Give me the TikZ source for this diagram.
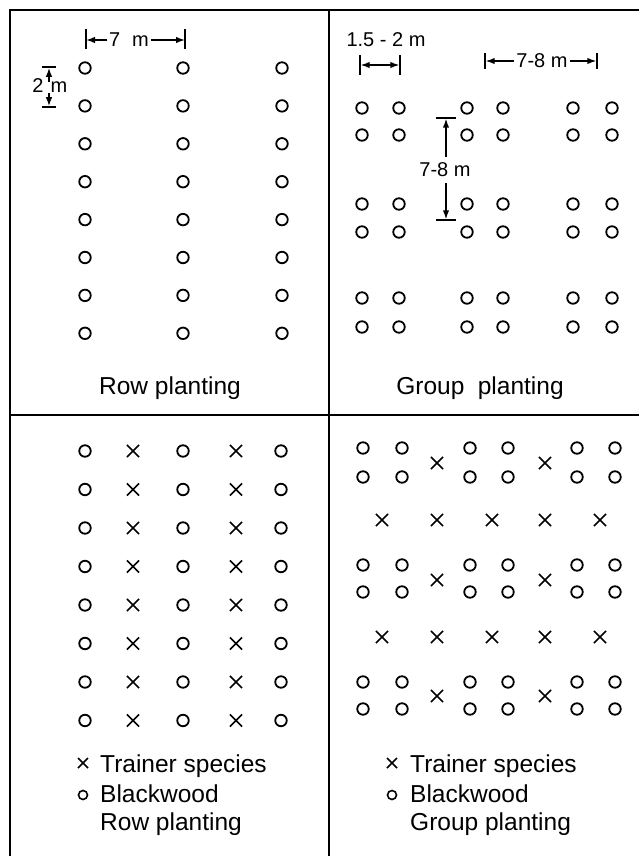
\documentclass[tikz,border=0pt]{standalone}
\usepackage{fontspec}
\setmainfont{Liberation Sans}
\usetikzlibrary{arrows.meta,shapes.misc}
\begin{document}
\begin{tikzpicture}[x=1pt,y=-1pt,
  tree/.style={circle,draw,line width=1.8pt,minimum size=11.5pt,inner sep=0pt},
  trainer/.style={cross out,draw,line width=1.7pt,minimum size=10.5pt,inner sep=0pt},
  ltree/.style={circle,draw,line width=1.6pt,minimum size=9pt,inner sep=0pt},
  ltrainer/.style={cross out,draw,line width=1.5pt,minimum size=8.5pt,inner sep=0pt},
  frame/.style={line width=1.8pt},
  bar/.style={line width=1.5pt},
  arr/.style={line width=1.4pt,-{Latex[length=9pt,width=6.5pt]}},
  darr/.style={line width=1.4pt,{Latex[length=9pt,width=6.5pt]}-{Latex[length=9pt,width=6.5pt]}},
  lbl/.style={font=\fontsize{24.5}{29}\selectfont,inner sep=0pt},
  dimtext/.style={font=\fontsize{20}{24}\selectfont,inner sep=2pt}]
\useasboundingbox (0,0) rectangle (639,856);
% frame
\coordinate (f1) at (10,10); \coordinate (f2) at (639,10);
\coordinate (f3) at (10,856); \coordinate (f4) at (329,10);
\coordinate (f5) at (329,856); \coordinate (f6) at (10,415);
\coordinate (f7) at (639,415);
\draw[frame] (f3) -- (f1) -- (f2);
\draw[frame] (f4) -- (f5);
\draw[frame] (f6) -- (f7);

% ---------- top-left: row planting ----------
\foreach \c [count=\i] in {85,183,282}
  \foreach \r in {0,...,7}
    \node[tree] (tl-\i-\r) at (\c,{68+37.9*\r}) {};
\node[lbl,anchor=base] (tlab) at (170,394) {Row planting};
% 7 m
\coordinate (a1) at (86,29); \coordinate (a2) at (86,49);
\coordinate (a3) at (185,29); \coordinate (a4) at (185,49);
\draw[bar] (a1) -- (a2); \draw[bar] (a3) -- (a4);
\coordinate (a5) at (86,40); \coordinate (a6) at (185,40);
\node[dimtext,inner sep=1.5pt] (atx) at (129,40) {7\hspace{0.6em}m};
\draw[arr] (atx.west) -- (a5);
\draw[arr] (atx.east) -- (a6);
% 2 m
\coordinate (b1) at (42,67); \coordinate (b2) at (56,67);
\coordinate (b3) at (42,107); \coordinate (b4) at (56,107);
\draw[bar] (b1) -- (b2); \draw[bar] (b3) -- (b4);
\node[dimtext,anchor=base,inner sep=0pt] (b2t) at (38,93) {2};
\node[dimtext,anchor=base,inner sep=0pt] (bmt) at (59,93) {m};
\coordinate (b5) at (49,82); \coordinate (b6) at (49,67.8);
\coordinate (b7) at (49,93); \coordinate (b8) at (49,106.2);
\draw[arr] (b5) -- (b6);
\draw[arr] (b7) -- (b8);

% ---------- top-right: group planting ----------
\foreach \c [count=\i] in {362,399,467,503,573,612}
  \foreach \r [count=\j] in {108,135,204,232,298,327}
    \node[tree] (tr-\i-\j) at (\c,\r) {};
\node[lbl,anchor=base] (trlab) at (480,394) {Group\hspace{0.55em}planting};
% 1.5 - 2 m
\node[dimtext] (ctx) at (386,40) {1.5 - 2 m};
\coordinate (c1) at (360,55); \coordinate (c2) at (360,75);
\coordinate (c3) at (400,55); \coordinate (c4) at (400,75);
\draw[bar] (c1) -- (c2); \draw[bar] (c3) -- (c4);
\coordinate (c5) at (360.7,65); \coordinate (c6) at (399.3,65);
\draw[darr] (c5) -- (c6);
% 7-8 m horizontal
\coordinate (d1) at (485,53); \coordinate (d2) at (485,69);
\coordinate (d3) at (597,53); \coordinate (d4) at (597,69);
\draw[bar] (d1) -- (d2); \draw[bar] (d3) -- (d4);
\node[dimtext] (dtx) at (542,61) {7-8 m};
\coordinate (d5) at (485.7,61); \coordinate (d6) at (596.3,61);
\draw[arr] (dtx.west) -- (d5);
\draw[arr] (dtx.east) -- (d6);
% 7-8 m vertical
\coordinate (e1) at (436,118); \coordinate (e2) at (456,118);
\coordinate (e3) at (436,220); \coordinate (e4) at (456,220);
\draw[bar] (e1) -- (e2); \draw[bar] (e3) -- (e4);
\node[dimtext,inner sep=4pt] (etx) at (445,170) {7-8 m};
\coordinate (e5) at (446,157); \coordinate (e6) at (446,118.7);
\coordinate (e7) at (446,183); \coordinate (e8) at (446,219.3);
\draw[arr] (e5) -- (e6);
\draw[arr] (e7) -- (e8);

% ---------- bottom-left: row planting with trainers ----------
\foreach \r in {0,...,7} {
  \node[tree] (bl-1-\r) at (85,{451+38.5*\r}) {};
  \node[trainer] (bl-2-\r) at (133,{451+38.5*\r}) {};
  \node[tree] (bl-3-\r) at (183,{451+38.5*\r}) {};
  \node[trainer] (bl-4-\r) at (236,{451+38.5*\r}) {};
  \node[tree] (bl-5-\r) at (281,{451+38.5*\r}) {};
}
\node[ltrainer] (lx1) at (83,763) {};
\node[lbl,anchor=base west] (lt1) at (100,772) {Trainer species};
\node[ltree] (lo1) at (83,795) {};
\node[lbl,anchor=base west] (lb1) at (100,802) {Blackwood};
\node[lbl,anchor=base west] (lr1) at (100,830) {Row planting};

% ---------- bottom-right: group planting with trainers ----------
\foreach \c [count=\i] in {363,402,470,508,577,615}
  \foreach \r [count=\j] in {448,477,565,592,682,709}
    \node[tree] (br-\i-\j) at (\c,\r) {};
\foreach \y [count=\j] in {463,580,696} {
  \node[trainer] (bg-1-\j) at (437,\y) {};
  \node[trainer] (bg-2-\j) at (545,\y) {};
}
\foreach \y [count=\j] in {520,637}
  \foreach \x [count=\i] in {382,437,492,545,600}
    \node[trainer] (bx-\i-\j) at (\x,\y) {};
\node[ltrainer] (lx2) at (392,763) {};
\node[lbl,anchor=base west] (lt2) at (410,772) {Trainer species};
\node[ltree] (lo2) at (392,795) {};
\node[lbl,anchor=base west] (lb2) at (410,802) {Blackwood};
\node[lbl,anchor=base west] (lr2) at (410,830) {Group planting};
\end{tikzpicture}
\end{document}
